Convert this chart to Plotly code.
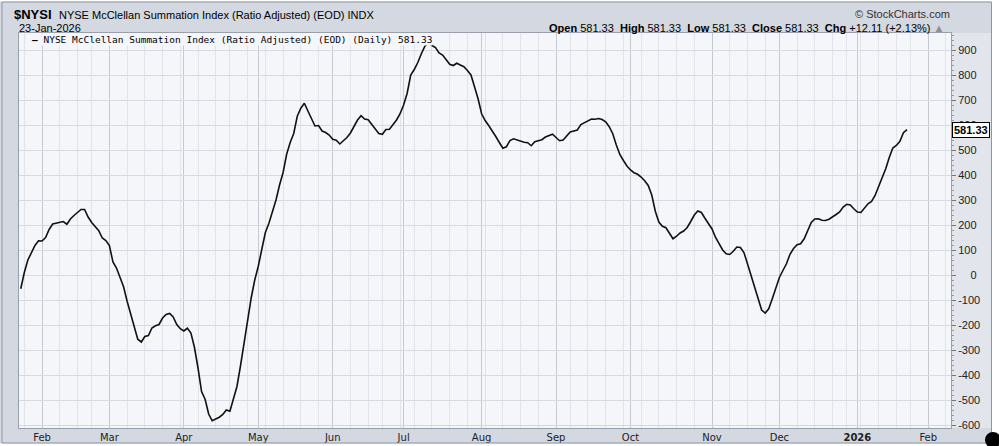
import pandas as pd
import plotly.graph_objects as go

# ---------------- data ----------------
market_holidays = ["2025-02-17", "2025-04-18", "2025-05-26", "2025-06-19", "2025-07-04",
                   "2025-09-01", "2025-11-27", "2025-12-25", "2026-01-01", "2026-01-19"]
first_date = "2025-01-24"
last_date = "2026-01-23"

nysi_values = [
    # late Jan 2025
    -55, 10, 60, 90, 118, 137,
    # Feb
    136, 150, 182, 204, 207, 212, 214, 203, 224, 238,
    252, 262, 262, 232, 210, 192, 177, 148, 138,
    # Mar
    118, 52, 28, -14, -47, -105, -155, -203, -257, -268, -246, -242, -212, -203, -198,
    -172, -158, -154, -168, -198, -215,
    # Apr
    -224, -213, -232, -290, -372, -466, -497, -556, -583, -577, -569, -558, -540, -545,
    -497, -445, -362, -270, -180, -92, -20,
    # May
    35, 103, 170, 207, 250, 300, 360, 410, 483, 530, 566, 635, 667, 687, 656, 625, 596,
    598, 576, 570, 560,
    # Jun
    543, 539, 524, 536, 550, 568, 597, 620, 637, 624, 621, 604, 584, 566, 563, 582, 583,
    600, 620, 645,
    # Jul
    680, 727, 800, 822, 850, 885, 915, 930, 918, 910, 888, 880, 862, 843, 838, 847, 840,
    833, 818, 800, 753, 705,
    # Aug
    645, 618, 598, 578, 554, 530, 507, 513, 538, 545, 540, 533, 531, 529, 517, 533, 538,
    541, 552, 559, 563,
    # Sep
    550, 537, 540, 555, 572, 576, 580, 602, 609, 618, 624, 623, 626, 622, 613, 593, 565,
    520, 482, 458, 436,
    # Oct
    420, 409, 403, 392, 377, 358, 320, 255, 212, 195, 189, 168, 145, 155, 168, 176, 190,
    214, 240, 256, 250, 227, 203,
    # Nov
    184, 150, 127, 100, 85, 82, 95, 112, 110, 90, 45, 0, -52, -100, -140, -152, -135, -95, -50,
    # Dec
    -10, 18, 45, 83, 106, 121, 125, 145, 178, 210, 224, 225, 219, 218, 223, 234, 242, 252,
    272, 283, 280, 265,
    # Jan 2026
    252, 250, 268, 285, 294, 318, 354, 387, 425, 470, 508, 518, 535, 569.22, 581.33,
]

month_tick_dates = ["2025-02-03", "2025-03-03", "2025-04-01", "2025-05-01", "2025-06-02",
                    "2025-07-01", "2025-08-01", "2025-09-02", "2025-10-01", "2025-11-03",
                    "2025-12-01", "2026-01-02", "2026-02-02"]
month_tick_labels = ["Feb", "Mar", "Apr", "May", "Jun", "Jul", "Aug", "Sep", "Oct", "Nov",
                     "Dec", "<b>2026</b>", "Feb"]
y_tick_values = list(range(-600, 1000, 100))
y_tick_labels = [("\u2007\u20070" if v == 0 else str(v)) for v in y_tick_values]

last_close = 581.33
ohlc_text = ("<b>Open</b> 581.33  <b>High</b> 581.33  <b>Low</b> 581.33  "
             "<b>Close</b> 581.33  <b>Chg</b> +12.11 (+2.13%) <span style='color:#8a8f99'>▲</span>")

trading_days = pd.bdate_range(first_date, last_date, freq="C", holidays=market_holidays)
n = min(len(trading_days), len(nysi_values))
trading_days = trading_days[:n]
nysi_values = nysi_values[:n]

# ---------------- layout helpers ----------------
W, H = 999, 446
PL, PR, PT, PB = 19, 951, 33, 428


def px(x):
    return (x - PL) / (PR - PL)


def py(y):
    return (PB - y) / (PB - PT)


FRAME = "#d3d8e1"
PLOTBG = "#f5f6fa"

fig = go.Figure()
fig.add_trace(go.Scatter(
    x=trading_days, y=nysi_values, mode="lines",
    line=dict(color="#111111", width=1.6),
    hoverinfo="x+y", showlegend=False,
))

fig.update_layout(
    width=W, height=H,
    margin=dict(l=PL, r=W - PR, t=PT, b=H - PB, pad=0),
    paper_bgcolor=FRAME,
    plot_bgcolor=PLOTBG,
    showlegend=False,
    font=dict(family="Liberation Sans, Arial, sans-serif", size=11, color="#111"),
)

fig.update_xaxes(
    type="date",
    range=["2025-01-23 12:00", "2026-02-10 10:00"],
    rangebreaks=[dict(bounds=["sat", "mon"]), dict(values=market_holidays)],
    tickmode="array", tickvals=month_tick_dates, ticktext=month_tick_labels,
    ticks="", showgrid=True, gridcolor="#c4c9d2", gridwidth=1,
    minor=dict(tick0="2025-01-27", dtick=7 * 24 * 3600 * 1000, showgrid=True,
               gridcolor="#e0e3ea", ticks=""),
    tickfont=dict(family="DejaVu Sans, Verdana, sans-serif", size=10, color="#222"),
    showline=True, linecolor="#9aa0aa", linewidth=1, mirror=True,
    zeroline=False, automargin=False,
)

fig.update_yaxes(
    side="right",
    range=[-612, 968],
    tickmode="array", tickvals=y_tick_values, ticktext=y_tick_labels,
    ticks="outside", ticklen=4, tickcolor="#777",
    minor=dict(dtick=20, ticks="outside", ticklen=2, tickcolor="#999", showgrid=False),
    showgrid=True, gridcolor="#d6dae2", gridwidth=1,
    tickfont=dict(family="Liberation Sans, Arial, sans-serif", size=11, color="#222"),
    showline=True, linecolor="#9aa0aa", linewidth=1, mirror=True,
    zeroline=False, automargin=False,
)

shapes = [
    # lighter y-axis panel
    dict(type="rect", xref="paper", yref="paper", x0=px(PR), x1=px(991), y0=py(PB), y1=py(PT),
         fillcolor="#e2e5eb", line=dict(width=0), layer="below"),
    # white outside strips
    dict(type="rect", xref="paper", yref="paper", x0=px(992), x1=px(1000), y0=py(447), y1=py(-1),
         fillcolor="white", line=dict(width=0), layer="above"),
    dict(type="rect", xref="paper", yref="paper", x0=px(-1), x1=px(1000), y0=py(447), y1=py(443.5),
         fillcolor="white", line=dict(width=0), layer="above"),
    dict(type="rect", xref="paper", yref="paper", x0=px(-1), x1=px(1000), y0=py(1.5), y1=py(-1),
         fillcolor="white", line=dict(width=0), layer="above"),
    # outer frame
    dict(type="rect", xref="paper", yref="paper", x0=px(2), x1=px(991.5), y0=py(443), y1=py(2),
         fillcolor="rgba(0,0,0,0)", line=dict(color="#8e96a3", width=1), layer="above"),
    # corner dot
    dict(type="circle", xref="paper", yref="paper", x0=px(985), x1=px(1001), y0=py(448), y1=py(432),
         fillcolor="black", line=dict(width=0), layer="above"),
]
fig.update_layout(shapes=shapes)

annotations = [
    dict(xref="paper", yref="paper", x=px(54), y=py(15), xanchor="right", yanchor="middle",
         text="<b>$NYSI</b>", showarrow=False, font=dict(size=13, color="#000")),
    dict(xref="paper", yref="paper", x=px(57), y=py(15), xanchor="left", yanchor="middle",
         text="NYSE McClellan Summation Index (Ratio Adjusted) (EOD) INDX",
         showarrow=False, font=dict(size=11, color="#000")),
    dict(xref="paper", yref="paper", x=px(17), y=py(28), xanchor="left", yanchor="middle",
         text="23-Jan-2026", showarrow=False, font=dict(size=11, color="#000")),
    dict(xref="paper", yref="paper", x=px(952), y=py(14), xanchor="right", yanchor="middle",
         text="© StockCharts.com", showarrow=False, font=dict(size=11, color="#333")),
    dict(xref="paper", yref="paper", x=px(946), y=py(28), xanchor="right", yanchor="middle",
         text=ohlc_text, showarrow=False, font=dict(size=11, color="#000")),
    dict(xref="paper", yref="paper", x=px(31), y=py(40), xanchor="left", yanchor="middle",
         text="<b>—</b> NYSE McClellan Summation Index (Ratio Adjusted) (EOD) (Daily) 581.33",
         showarrow=False, bgcolor=PLOTBG, borderpad=0,
         font=dict(family="DejaVu Sans Mono, monospace", size=9.5, color="#000")),
    dict(xref="paper", yref="y", x=px(952), y=last_close, xanchor="left", yanchor="middle",
         text="<b>581.33</b>", showarrow=False, bgcolor="white", bordercolor="black",
         borderwidth=1, borderpad=1, font=dict(size=11, color="#000")),
]
fig.update_layout(annotations=annotations)

fig.write_html(
    "out.html",
    config={"displayModeBar": False},
    post_script="document.body.style.margin='0';document.body.style.overflow='hidden';",
)
